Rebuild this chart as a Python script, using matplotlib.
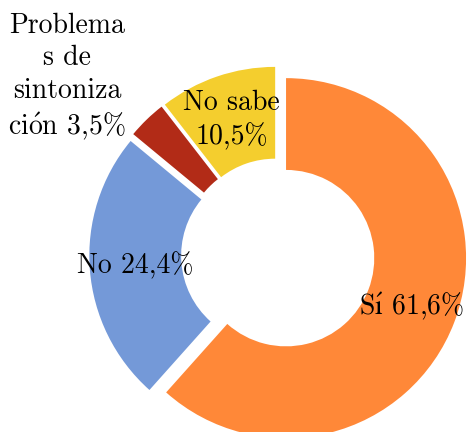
import matplotlib.pyplot as plt
import numpy as np

# datos de la encuesta
etiquetas = ['Sí', 'No', 'Problemas de sintonización', 'No sabe']
valores = [61.6, 24.4, 3.5, 10.5]
# cmr10 no tiene acentos, se ponen con mathtext
textos = ['S$\\mathrm{\\acute{\u0131}}$ 61,6%', 'No 24,4%',
          'Problema\ns de\nsintoniza\nci$\\mathrm{\\acute{o}}$n 3,5%',
          'No sabe\n10,5%']
colores = ['#FF8838', '#7499D8', '#B22B17', '#F4CE2E']

plt.rcParams['font.family'] = ['cmr10', 'DejaVu Serif']
plt.rcParams['mathtext.fontset'] = 'cm'

fig = plt.figure(figsize=(4.67, 4.32), dpi=100)
ax = fig.add_axes([0, 0, 1, 1])

explode = [0.048] * len(valores)
wedges, _ = ax.pie(valores, colors=colores, startangle=90, counterclock=False,
                   explode=explode, radius=1.0,
                   wedgeprops=dict(width=0.51, edgecolor='none'))

# etiquetas en el centro del anillo
for w, txt in zip(wedges, textos):
    ang = np.deg2rad((w.theta1 + w.theta2) / 2)
    if txt.startswith('Problema'):
        x, y = -1.172, 0.985  # etiqueta movida fuera del anillo
    else:
        r = 0.745 + 0.048
        x, y = r * np.cos(ang), r * np.sin(ang)
    ax.text(x, y, txt, ha='center', va='center', fontsize=20,
            linespacing=1.3, color='black')

ax.set_xlim(-1.544, 1.05)
ax.set_ylim(-0.983, 1.417)
ax.set_aspect('auto')
ax.axis('off')

fig.savefig('out.png', dpi=100)
